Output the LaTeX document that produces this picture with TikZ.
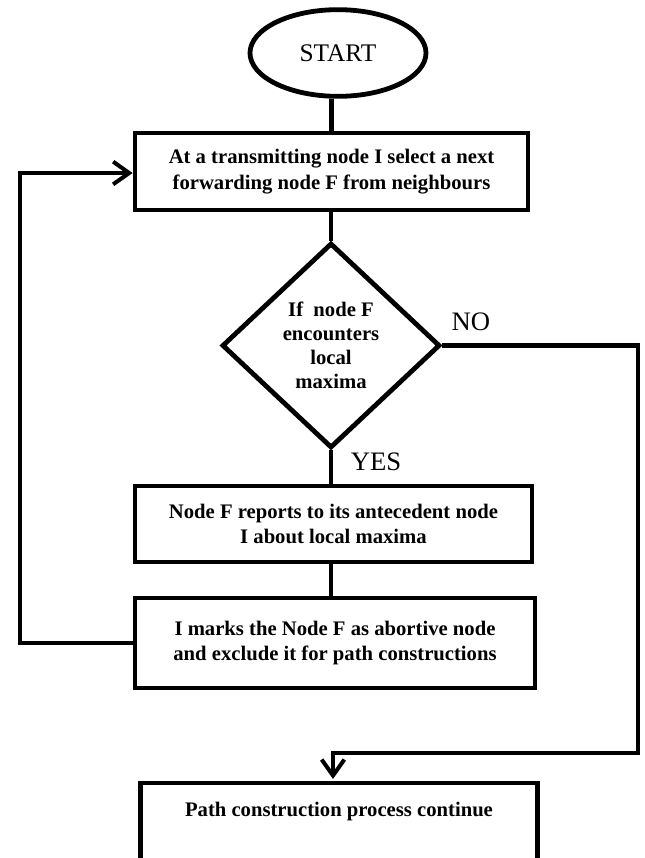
\documentclass[tikz,border=0pt]{standalone}
\usepackage{fontspec}
\setmainfont{Liberation Serif}
\usepackage{tikz}
\usetikzlibrary{shapes.geometric}
\usetikzlibrary{arrows.meta}

\tikzset{
  flow/.style={line width=3.6pt},
  barb/.style={-{Straight Barb[length=12pt,width=17pt,line width=3pt]}},
  box/.style={draw, rectangle, line width=3.6pt, align=center, inner sep=0pt,
    font=\fontsize{15.5}{19}\selectfont\bfseries},
  terminal/.style={draw, ellipse, line width=3.6pt, minimum width=132pt,
    minimum height=65pt, font=\fontsize{19}{22}\selectfont},
  decision/.style={draw, diamond, line width=3.6pt, align=center, inner sep=0pt,
    aspect=1.06, minimum width=163.5pt, minimum height=153.75pt,
    font=\fontsize{15.5}{18}\selectfont\bfseries},
  answer/.style={font=\fontsize{20}{24}\selectfont}
}

\begin{document}
\begin{tikzpicture}[x=0.75pt,y=-0.75pt]
                \useasboundingbox (0,0) rectangle (644,858);

                % Start and first step
                \node[terminal] (start) at (338,53) {START};
                \node[box, minimum width=294.75pt, minimum height=57.75pt] (sel) at (331.5,171.5)
                    {At a transmitting node I select a next\\forwarding node F from neighbours};

                % Decision
                \node[decision] (check) at (331,345.5) {If~ node F\\encounters\\local\\maxima};
                \node[answer] (no) at (471,322) {NO};
                \node[answer] (yes) at (376,462) {YES};

                % YES branch
                \node[box, minimum width=297.75pt, minimum height=57pt] (rep) at (333.5,524)
                    {Node F reports to its antecedent node\\I about local maxima};
                \node[box, minimum width=300pt, minimum height=67.5pt] (mark) at (335,643)
                    {I marks the Node F as abortive node\\and exclude it for path constructions};

                % NO branch (box runs off the page)
                \node[box, draw=none, anchor=north, minimum width=294pt, inner ysep=12pt,
                    text height=11pt, text depth=40pt] (cont) at (339,783)
                    {Path construction process continue};
                \draw[flow] (cont.south west) -- (cont.north west) -- (cont.north east) -- (cont.south east);

                % Connectors
                \draw[flow] (sel.north) -- (sel.north |- start.south);
                \draw[flow] (check.north) -- (check.north |- sel.south);
                \draw[flow] (check.south) -- (check.south |- rep.north);
                \draw[flow] (check.south |- rep.south) -- (check.south |- mark.north);

                % Loop back
                \coordinate (loopb) at (20,643);
                \coordinate (loopt) at (20,173);
                \draw[flow, barb] (mark.west) -- (loopb) -- (loopt) -- (sel.west |- loopt);

                % NO path
                \coordinate (noright) at (638,345.5);
                \coordinate (nodown) at (638,753);
                \coordinate (noleft) at (333,753);
                \draw[flow, barb, shorten >=3pt] (check.east) -- (noright) -- (nodown) -- (noleft) -- (noleft |- cont.north);
            \end{tikzpicture}
\end{document}
